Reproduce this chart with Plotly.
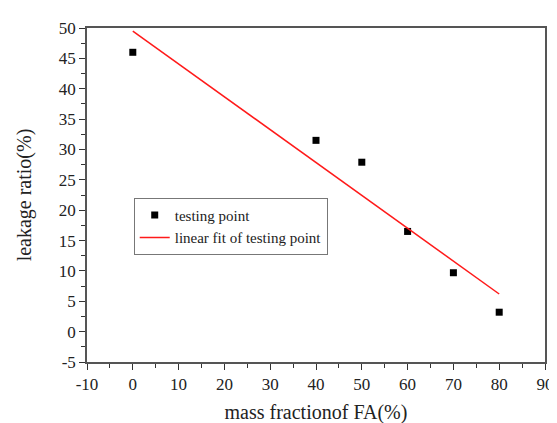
import plotly.graph_objects as go

# Data
fa_fraction = [0, 40, 50, 60, 70, 80]
leakage_ratio = [46.0, 31.5, 27.9, 16.5, 9.7, 3.2]
fit_x = [0, 80]
fit_y = [49.5, 6.2]

x_ticks = list(range(-10, 91, 10))
x_tick_labels = [str(v) for v in x_ticks]
y_ticks = list(range(-5, 51, 5))
y_tick_labels = [str(v) for v in y_ticks]

FONT = "Liberation Serif"
TXT = "#222222"

fig = go.Figure()
fig.add_trace(go.Scatter(
    x=fa_fraction, y=leakage_ratio, mode="markers", name="testing point",
    marker=dict(symbol="square", size=7, color="black"),
))
fig.add_trace(go.Scatter(
    x=fit_x, y=fit_y, mode="lines", name="linear fit of testing point",
    line=dict(color="#ff1a1a", width=1.5),
))

axis_common = dict(
    showgrid=False, zeroline=False, showline=True, mirror=True,
    linecolor="#555555", linewidth=1.5,
    ticks="outside", ticklen=6, tickwidth=1.2, tickcolor="#333333",
    tickfont=dict(family=FONT, size=17, color=TXT),
)

fig.update_xaxes(
    range=[-10, 90], tickvals=x_ticks, ticktext=x_tick_labels,
    minor=dict(dtick=5, tick0=-10, ticks="outside", ticklen=4, tickcolor="#333333"),
    title=dict(text="mass fractionof FA(%)", font=dict(family=FONT, size=20, color=TXT), standoff=12),
    **axis_common,
)
fig.update_yaxes(
    range=[-5, 50], tickvals=y_ticks, ticktext=y_tick_labels,
    minor=dict(dtick=2.5, tick0=-5, ticks="outside", ticklen=4, tickcolor="#333333"),
    title=dict(text="leakage ratio(%)", font=dict(family=FONT, size=20, color=TXT), standoff=22),
    **axis_common,
)

fig.update_layout(
    width=557, height=423,
    margin=dict(l=79, r=11, t=20, b=59),
    paper_bgcolor="white", plot_bgcolor="white",
    showlegend=True,
    legend=dict(
        x=0.102, y=0.492, xanchor="left", yanchor="top",
        bordercolor="#777777", borderwidth=1, bgcolor="white",
        font=dict(family=FONT, size=15, color=TXT),
        tracegroupgap=0,
    ),
)

fig.write_html("out.html")
